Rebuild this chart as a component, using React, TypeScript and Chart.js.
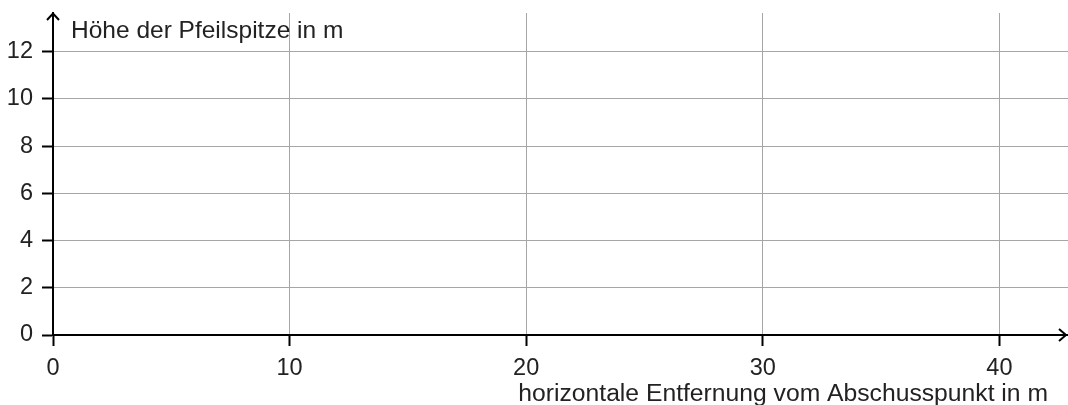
import React, { useEffect, useRef } from "react";
import { Chart, registerables } from "chart.js";

Chart.register(...registerables);

const xTicks = [0, 10, 20, 30, 40];
const yTicks = [0, 2, 4, 6, 8, 10, 12];
const xMax = 42.9;
const yMax = 13.64;
const yTitle = "Höhe der Pfeilspitze in m";
const xTitle = "horizontale Entfernung vom Abschusspunkt in m";
const emptySeries: { x: number; y: number }[] = [];

const FONT = "'Liberation Sans', Arial, sans-serif";
const TEXT = "#222222";

const axisPlugin = {
  id: "axisDecor",
  afterDraw(chart: any) {
    const { ctx, chartArea } = chart;
    const x0 = chart.scales.x.getPixelForValue(0);
    const y0 = chart.scales.y.getPixelForValue(0);
    ctx.save();
    ctx.strokeStyle = "#000";
    ctx.lineWidth = 2;
    // y arrow
    ctx.beginPath();
    ctx.moveTo(x0 - 6, chartArea.top + 7);
    ctx.lineTo(x0, chartArea.top + 0.5);
    ctx.lineTo(x0 + 6, chartArea.top + 7);
    ctx.stroke();
    // x arrow
    const xr = chartArea.right - 2;
    ctx.beginPath();
    ctx.moveTo(xr - 7, y0 - 6);
    ctx.lineTo(xr, y0);
    ctx.lineTo(xr - 7, y0 + 6);
    ctx.stroke();
    ctx.fillStyle = TEXT;
    ctx.font = `24.5px ${FONT}`;
    ctx.textBaseline = "alphabetic";
    ctx.textAlign = "left";
    ctx.fillText(yTitle, x0 + 18, chartArea.top + 25);
    ctx.font = `24.7px ${FONT}`;
    ctx.textAlign = "right";
    ctx.fillText(xTitle, chartArea.right - 20, y0 + 66);
    ctx.restore();
  },
};

export default function App() {
  const ref = useRef<HTMLCanvasElement | null>(null);
  useEffect(() => {
    if (!ref.current) return;
    const chart = new Chart(ref.current, {
      type: "scatter",
      data: { datasets: [{ data: emptySeries, pointRadius: 0 }] },
      options: {
        animation: false,
        responsive: false,
        devicePixelRatio: 1,
        layout: { padding: { top: 13, right: 0, left: 0, bottom: 0 } },
        plugins: { legend: { display: false }, tooltip: { enabled: false } },
        scales: {
          x: {
            type: "linear",
            min: 0,
            max: xMax,
            afterFit(scale: any) {
              scale.height = 70;
              scale.paddingLeft = 0;
              scale.paddingRight = 0;
            },
            afterBuildTicks(scale: any) {
              scale.ticks = xTicks.map((v) => ({ value: v }));
            },
            ticks: {
              font: { family: FONT, size: 23.5 },
              color: TEXT,
              padding: 8,
              maxRotation: 0,
              autoSkip: false,
            },
            grid: {
              color: "#a6a6a6",
              lineWidth: 1,
              tickColor: "#000",
              tickLength: 11,
              tickWidth: 2,
            },
            border: { color: "#000", width: 2 },
          },
          y: {
            type: "linear",
            min: 0,
            max: yMax,
            afterFit(scale: any) {
              scale.width = 53;
              scale.paddingTop = 0;
              scale.paddingBottom = 0;
            },
            afterBuildTicks(scale: any) {
              scale.ticks = yTicks.map((v) => ({ value: v }));
            },
            ticks: {
              font: { family: FONT, size: 23.5 },
              color: TEXT,
              padding: 9,
              autoSkip: false,
            },
            grid: {
              color: "#a6a6a6",
              lineWidth: 1,
              tickColor: "#000",
              tickLength: 11,
              tickWidth: 2,
            },
            border: { color: "#000", width: 2 },
          },
        },
      },
      plugins: [axisPlugin],
    });
    return () => chart.destroy();
  }, []);
  return (
    <div style={{ position: "fixed", left: 0, top: 0, width: 1068, height: 405, background: "#fff" }}>
      <canvas ref={ref} width={1068} height={405} />
    </div>
  );
}
